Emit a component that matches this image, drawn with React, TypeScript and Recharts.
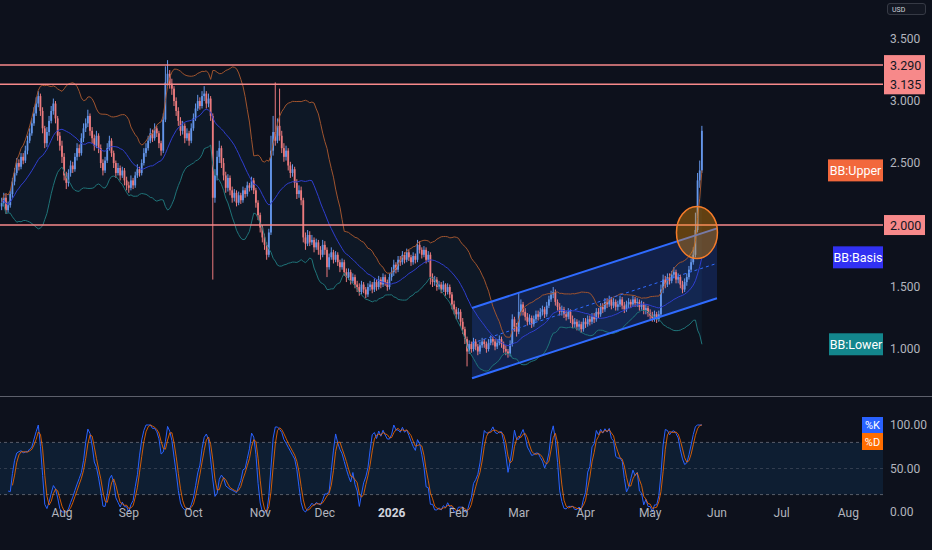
import React from 'react';
import {
  ComposedChart, Bar, Line, Area, XAxis, YAxis,
  ReferenceLine, ReferenceArea, ReferenceDot,
} from 'recharts';

// daily candles, [high, low, close]; open = previous close
const jul25 = [
  [2.22, 2.12, 2.18], [2.26, 2.15, 2.22], [2.25, 2.09, 2.12], [2.19, 2.10, 2.16], [2.28, 2.14, 2.25],
  [2.38, 2.22, 2.35], [2.46, 2.32, 2.42], [2.54, 2.40, 2.50], [2.53, 2.44, 2.47], [2.58, 2.45, 2.55],
  [2.58, 2.49, 2.52], [2.64, 2.50, 2.60], [2.72, 2.57, 2.68], [2.78, 2.66, 2.74], [2.86, 2.72, 2.82],
  [2.95, 2.80, 2.90], [3.03, 2.88, 2.98], [3.08, 2.95, 3.04], [3.06, 2.88, 2.92], [2.95, 2.74, 2.78],
  [2.80, 2.62, 2.66], [2.79, 2.63, 2.75], [2.88, 2.72, 2.84], [2.96, 2.82, 2.92], [3.02, 2.89, 2.98],
  [3.00, 2.82, 2.86], [2.88, 2.68, 2.72], [2.75, 2.60, 2.64],
];
const aug25 = [
  [2.68, 2.50, 2.55], [2.58, 2.36, 2.40], [2.43, 2.29, 2.34], [2.45, 2.31, 2.42], [2.52, 2.39, 2.48],
  [2.51, 2.42, 2.45], [2.58, 2.43, 2.55], [2.66, 2.52, 2.62], [2.65, 2.55, 2.58], [2.74, 2.56, 2.70],
  [2.82, 2.67, 2.78], [2.86, 2.75, 2.82], [2.93, 2.79, 2.88], [2.90, 2.72, 2.76], [2.79, 2.66, 2.70],
  [2.73, 2.60, 2.64], [2.76, 2.62, 2.72], [2.74, 2.58, 2.62], [2.65, 2.46, 2.50], [2.53, 2.40, 2.44],
  [2.55, 2.42, 2.52], [2.66, 2.50, 2.62], [2.72, 2.60, 2.68], [2.70, 2.55, 2.58], [2.60, 2.46, 2.50],
  [2.52, 2.38, 2.42], [2.50, 2.40, 2.46], [2.48, 2.36, 2.40], [2.47, 2.38, 2.44], [2.46, 2.32, 2.36],
  [2.39, 2.28, 2.32],
];
const sep25 = [
  [2.35, 2.26, 2.30], [2.40, 2.28, 2.36], [2.38, 2.29, 2.32], [2.43, 2.30, 2.40], [2.49, 2.38, 2.45],
  [2.47, 2.39, 2.42], [2.53, 2.40, 2.50], [2.62, 2.48, 2.58], [2.66, 2.55, 2.62], [2.72, 2.60, 2.68],
  [2.78, 2.66, 2.74], [2.77, 2.67, 2.70], [2.82, 2.68, 2.78], [2.80, 2.71, 2.74], [2.76, 2.62, 2.66],
  [2.68, 2.56, 2.60], [2.90, 2.58, 2.85], [3.28, 2.83, 3.15], [3.33, 3.12, 3.22], [3.25, 3.10, 3.14],
  [3.18, 3.05, 3.10], [3.12, 2.96, 3.00], [3.03, 2.88, 2.92], [2.95, 2.80, 2.84], [2.87, 2.72, 2.76],
  [2.84, 2.73, 2.80], [2.82, 2.66, 2.70], [2.78, 2.68, 2.74], [2.76, 2.64, 2.68], [2.82, 2.66, 2.78],
];
const oct25 = [
  [2.90, 2.76, 2.86], [2.98, 2.84, 2.94], [3.05, 2.92, 3.00], [3.03, 2.93, 2.96], [3.08, 2.94, 3.04],
  [3.12, 3.00, 3.06], [3.08, 2.94, 2.98], [3.06, 2.95, 3.02], [3.04, 2.84, 2.88], [2.90, 1.56, 2.22],
  [2.45, 2.18, 2.40], [2.60, 2.36, 2.55], [2.68, 2.50, 2.62], [2.64, 2.46, 2.50], [2.54, 2.36, 2.40],
  [2.43, 2.26, 2.30], [2.41, 2.27, 2.38], [2.40, 2.24, 2.28], [2.31, 2.18, 2.22], [2.29, 2.19, 2.26],
  [2.28, 2.15, 2.18], [2.27, 2.16, 2.24], [2.26, 2.17, 2.20], [2.31, 2.18, 2.28], [2.30, 2.22, 2.25],
  [2.35, 2.23, 2.32], [2.34, 2.27, 2.30], [2.39, 2.28, 2.36], [2.38, 2.25, 2.28], [2.30, 2.14, 2.18],
  [2.20, 2.04, 2.08],
];
const nov25 = [
  [2.10, 1.94, 1.98], [2.00, 1.86, 1.90], [1.93, 1.80, 1.84], [1.86, 1.72, 1.76], [1.97, 1.74, 1.94],
  [2.72, 1.92, 2.60], [2.88, 2.56, 2.75], [3.15, 2.64, 2.68], [2.86, 2.66, 2.80], [3.10, 2.68, 2.72],
  [2.76, 2.58, 2.62], [2.66, 2.51, 2.55], [2.64, 2.52, 2.60], [2.62, 2.44, 2.48], [2.51, 2.38, 2.42],
  [2.49, 2.39, 2.45], [2.47, 2.30, 2.34], [2.37, 2.21, 2.25], [2.32, 2.22, 2.28], [2.31, 2.16, 2.20],
  [2.22, 1.86, 1.90], [1.94, 1.80, 1.85], [1.96, 1.83, 1.92], [1.95, 1.83, 1.86], [1.92, 1.84, 1.88],
  [1.90, 1.78, 1.82], [1.89, 1.80, 1.86], [1.88, 1.76, 1.80], [1.83, 1.72, 1.76], [1.88, 1.74, 1.84],
];
const dec25 = [
  [1.87, 1.76, 1.80], [1.82, 1.58, 1.66], [1.77, 1.64, 1.74], [1.82, 1.72, 1.78], [1.80, 1.69, 1.72],
  [1.79, 1.70, 1.76], [1.78, 1.67, 1.70], [1.72, 1.62, 1.66], [1.73, 1.64, 1.70], [1.72, 1.59, 1.62],
  [1.65, 1.54, 1.58], [1.65, 1.56, 1.62], [1.64, 1.52, 1.55], [1.61, 1.53, 1.58], [1.60, 1.49, 1.52],
  [1.55, 1.46, 1.50], [1.53, 1.43, 1.46], [1.55, 1.44, 1.52], [1.54, 1.45, 1.48], [1.50, 1.41, 1.44],
  [1.53, 1.42, 1.50], [1.55, 1.47, 1.52], [1.54, 1.45, 1.48], [1.57, 1.46, 1.54], [1.56, 1.47, 1.50],
  [1.59, 1.48, 1.56], [1.58, 1.49, 1.52], [1.61, 1.50, 1.58], [1.60, 1.51, 1.54], [1.56, 1.47, 1.50],
  [1.61, 1.48, 1.58],
];
const jan26 = [
  [1.66, 1.55, 1.62], [1.72, 1.59, 1.68], [1.70, 1.61, 1.64], [1.75, 1.62, 1.72], [1.75, 1.67, 1.70],
  [1.79, 1.68, 1.76], [1.78, 1.69, 1.72], [1.81, 1.70, 1.78], [1.80, 1.71, 1.74], [1.76, 1.67, 1.70],
  [1.78, 1.68, 1.75], [1.77, 1.69, 1.72], [1.88, 1.70, 1.84], [1.87, 1.77, 1.80], [1.82, 1.73, 1.76],
  [1.83, 1.74, 1.80], [1.82, 1.69, 1.72], [1.79, 1.70, 1.76], [1.78, 1.52, 1.58], [1.61, 1.50, 1.54],
  [1.59, 1.51, 1.56], [1.58, 1.47, 1.50], [1.55, 1.48, 1.52], [1.54, 1.45, 1.48], [1.55, 1.46, 1.52],
  [1.53, 1.43, 1.46], [1.53, 1.44, 1.50], [1.52, 1.41, 1.44], [1.46, 1.32, 1.36], [1.39, 1.28, 1.32],
  [1.34, 1.24, 1.28],
];
const feb26 = [
  [1.33, 1.24, 1.30], [1.32, 1.18, 1.22], [1.25, 1.12, 1.16], [1.18, 1.04, 1.08], [1.10, 0.86, 0.98],
  [1.07, 0.96, 1.04], [1.06, 0.97, 1.00], [1.09, 0.98, 1.06], [1.08, 0.99, 1.02], [1.04, 0.95, 0.98],
  [1.06, 0.96, 1.03], [1.09, 1.01, 1.06], [1.08, 1.01, 1.04], [1.06, 0.97, 1.00], [1.08, 0.98, 1.05],
  [1.11, 1.03, 1.08], [1.10, 1.03, 1.06], [1.08, 0.99, 1.02], [1.08, 1.00, 1.05], [1.11, 1.03, 1.08],
  [1.10, 1.01, 1.04], [1.06, 0.97, 1.00], [1.03, 0.95, 0.98], [1.00, 0.93, 0.96], [1.07, 0.94, 1.04],
  [1.28, 1.02, 1.24], [1.26, 1.14, 1.18], [1.21, 1.10, 1.14],
];
const mar26 = [
  [1.45, 1.12, 1.30], [1.40, 1.27, 1.36], [1.38, 1.27, 1.30], [1.33, 1.23, 1.26], [1.29, 1.19, 1.22],
  [1.28, 1.20, 1.25], [1.27, 1.17, 1.20], [1.27, 1.18, 1.24], [1.31, 1.22, 1.28], [1.31, 1.23, 1.26],
  [1.33, 1.24, 1.30], [1.35, 1.27, 1.32], [1.34, 1.25, 1.28], [1.38, 1.26, 1.35], [1.43, 1.33, 1.40],
  [1.47, 1.38, 1.44], [1.50, 1.41, 1.46], [1.48, 1.35, 1.38], [1.40, 1.31, 1.34], [1.37, 1.27, 1.30],
  [1.35, 1.27, 1.32], [1.34, 1.25, 1.28], [1.31, 1.23, 1.26], [1.33, 1.24, 1.30], [1.32, 1.21, 1.24],
  [1.27, 1.17, 1.20], [1.25, 1.17, 1.22], [1.24, 1.15, 1.18], [1.23, 1.15, 1.20], [1.22, 1.13, 1.16],
  [1.25, 1.14, 1.22],
];
const apr26 = [
  [1.25, 1.17, 1.20], [1.27, 1.18, 1.24], [1.27, 1.19, 1.22], [1.29, 1.20, 1.26], [1.29, 1.21, 1.24],
  [1.33, 1.22, 1.30], [1.33, 1.25, 1.28], [1.37, 1.26, 1.34], [1.37, 1.29, 1.32], [1.41, 1.30, 1.38],
  [1.41, 1.33, 1.36], [1.43, 1.34, 1.40], [1.42, 1.32, 1.35], [1.41, 1.33, 1.38], [1.40, 1.31, 1.34],
  [1.39, 1.31, 1.36], [1.43, 1.34, 1.40], [1.42, 1.32, 1.35], [1.38, 1.29, 1.32], [1.39, 1.30, 1.36],
  [1.41, 1.33, 1.38], [1.40, 1.33, 1.36], [1.43, 1.34, 1.40], [1.42, 1.34, 1.37], [1.41, 1.34, 1.38],
  [1.40, 1.31, 1.34], [1.39, 1.31, 1.36], [1.38, 1.28, 1.31], [1.36, 1.28, 1.33], [1.35, 1.26, 1.29],
];
const may26 = [
  [1.32, 1.24, 1.27], [1.30, 1.22, 1.25], [1.31, 1.22, 1.28], [1.30, 1.21, 1.24], [1.31, 1.22, 1.28],
  [1.52, 1.26, 1.48], [1.60, 1.45, 1.56], [1.59, 1.49, 1.52], [1.61, 1.50, 1.58], [1.61, 1.52, 1.55],
  [1.63, 1.53, 1.60], [1.66, 1.57, 1.62], [1.64, 1.53, 1.56], [1.61, 1.53, 1.58], [1.60, 1.49, 1.52],
  [1.55, 1.45, 1.48], [1.57, 1.46, 1.54], [1.61, 1.51, 1.58], [1.67, 1.56, 1.64], [1.73, 1.62, 1.70],
  [1.82, 1.68, 1.76], [2.10, 1.74, 1.96], [2.42, 1.94, 2.36], [2.52, 2.30, 2.44], [2.80, 2.42, 2.76],
];

const FIRST_DAY = -28; // 4 Jul 2025, days counted from 1 Aug 2025
const FIRST_OPEN = 2.15;

const monthTicks = [0, 31, 61, 92, 122, 153, 184, 212, 243, 273, 304, 334, 365];
const monthLabels = ['Aug', 'Sep', 'Oct', 'Nov', 'Dec', '2026', 'Feb', 'Mar', 'Apr', 'May', 'Jun', 'Jul', 'Aug'];
const priceTicks = [1, 1.5, 2.5, 3, 3.5];
const stochTicks = [0, 50, 100];
const levels = [3.29, 3.135, 2.0];

// parallel channel drawn on the chart
const channelDays = [190.3, 304];
const channelUpper = [1.331, 1.973];
const channelLower = [0.764, 1.409];
const circleDay = 294.7;
const circlePrice = 1.94;

const X_DOMAIN: [number, number] = [-28.78, 381.05];
const BG = '#0d111c';
const UP = '#6496ea';
const DOWN = '#eb7a7d';
const LEVEL = '#f7898a';
const AXIS_TEXT = '#b2b5be';

const avg = (a: number[]) => a.reduce((s, v) => s + v, 0) / a.length;

let prevClose = FIRST_OPEN;
const candles: any[] = [
  ...jul25, ...aug25, ...sep25, ...oct25, ...nov25, ...dec25,
  ...jan26, ...feb26, ...mar26, ...apr26, ...may26,
].map(([h, l, c], i) => {
  const o = prevClose;
  prevClose = c;
  const hi = Math.max(h, o, c);
  const lo = Math.min(l, o, c);
  return { d: FIRST_DAY + i, o, h: hi, l: lo, c, range: [lo, hi] };
});

// Bollinger bands (20, 2)
const closes = candles.map((k) => k.c);
candles.forEach((k, i) => {
  const win = closes.slice(Math.max(0, i - 19), i + 1);
  const m = avg(win);
  const sd = Math.sqrt(avg(win.map((v) => (v - m) ** 2)));
  k.basis = m;
  k.upper = m + 2 * sd;
  k.lower = m - 2 * sd;
  k.band = [k.lower, k.upper];
});

// Stochastic RSI (14, 14, 3, 3)
const rsi: number[] = [];
let ag = 0;
let al = 0;
closes.forEach((c, i) => {
  if (i === 0) { rsi.push(50); return; }
  const ch = c - closes[i - 1];
  const n = Math.min(i, 14);
  ag = (ag * (n - 1) + Math.max(ch, 0)) / n;
  al = (al * (n - 1) + Math.max(-ch, 0)) / n;
  rsi.push(al === 0 ? 100 : 100 - 100 / (1 + ag / al));
});
const stoch = rsi.map((r, i) => {
  const win = rsi.slice(Math.max(1, i - 13), i + 1);
  const hi = Math.max(...win);
  const lo = Math.min(...win);
  return hi === lo ? 50 : ((r - lo) / (hi - lo)) * 100;
});
const kLine = stoch.map((_, i) => avg(stoch.slice(Math.max(0, i - 2), i + 1)));
const dLine = kLine.map((_, i) => avg(kLine.slice(Math.max(0, i - 2), i + 1)));
const stochData = candles.map((k, i) => ({ d: k.d, k: kLine[i], dd: dLine[i] }));

const channelData = channelDays.map((d, i) => ({ d, band: [channelLower[i], channelUpper[i]] }));
const last = candles[candles.length - 1];
const lastK = kLine[kLine.length - 1];

const Candle = (props: any) => {
  const { x, y, width, height, payload } = props;
  if (!payload) return null;
  const { o, h, l, c } = payload;
  const top = Math.min(y, y + height);
  const hh = Math.abs(height);
  const ratio = h === l ? 0 : hh / (h - l);
  const color = c >= o ? UP : DOWN;
  const cx = x + width / 2;
  const bTop = top + (h - Math.max(o, c)) * ratio;
  const bBot = top + (h - Math.min(o, c)) * ratio;
  return (
    <g>
      <line x1={cx} x2={cx} y1={top} y2={top + hh} stroke={color} strokeWidth={1} />
      <rect x={cx - 0.9} y={bTop} width={1.8} height={Math.max(bBot - bTop, 1)} fill={color} />
    </g>
  );
};

const sideTag = (label: string, bg: string, w: number) => (p: any) => (
  <g>
    <rect x={p.cx - w} y={p.cy - 11} width={w} height={22} fill={bg} />
    <text x={p.cx - w / 2} y={p.cy + 4.5} textAnchor="middle" fill="#ffffff" fontSize={12.5}>{label}</text>
  </g>
);

const levelTag = (label: string) => (p: any) => (
  <g>
    <rect x={p.cx + 1} y={p.cy - 10} width={41} height={20} fill={LEVEL} />
    <text x={p.cx + 7} y={p.cy + 4.5} fill="#131722" fontSize={12.5}>{label}</text>
  </g>
);

const KDTags = (p: any) => (
  <g>
    <rect x={p.cx - 21} y={p.cy - 8} width={21} height={16} fill="#2962ff" />
    <text x={p.cx - 10.5} y={p.cy + 4} textAnchor="middle" fill="#ffffff" fontSize={11}>%K</text>
    <rect x={p.cx - 21} y={p.cy + 8} width={21} height={17} fill="#ff6d00" />
    <text x={p.cx - 10.5} y={p.cy + 21} textAnchor="middle" fill="#ffffff" fontSize={11}>%D</text>
  </g>
);

const Ellipse = (p: any) => (
  <ellipse cx={p.cx} cy={p.cy} rx={20.5} ry={26} fill="#ff9800" fillOpacity={0.35} stroke="#f57c2a" strokeWidth={1.5} />
);

const TimeTick = (p: any) => {
  const idx = monthTicks.indexOf(p.payload.value);
  const label = monthLabels[idx];
  const bold = label === '2026';
  return (
    <text x={p.x} y={p.y - 10} textAnchor="middle" fontSize={12}
      fill={bold ? '#d1d4dc' : AXIS_TEXT} fontWeight={bold ? 'bold' : 'normal'}>
      {label}
    </text>
  );
};

export default function App() {
  return (
    <div style={{
      position: 'absolute', left: 0, top: 0, width: 932, height: 550, background: BG,
      overflow: 'hidden', fontFamily: 'Roboto, "Noto Sans", sans-serif',
    }}>
      <div style={{ position: 'absolute', left: 0, top: 0 }}>
        <ComposedChart width={932} height={397} data={candles} margin={{ top: 0, right: 0, bottom: 0, left: 0 }}>
          <XAxis dataKey="d" type="number" domain={X_DOMAIN} allowDataOverflow hide />
          <YAxis orientation="right" width={49} domain={[0.613, 3.815]} allowDataOverflow ticks={priceTicks}
            tickFormatter={(v: number) => v.toFixed(3)} axisLine={false} tickLine={false} tickSize={0}
            tickMargin={7} tick={{ fill: AXIS_TEXT, fontSize: 12 }} />
          <Area dataKey="band" type="linear" stroke="none" fill="#2196f3" fillOpacity={0.05}
            dot={false} activeDot={false} isAnimationActive={false} />
          <Area data={channelData} dataKey="band" type="linear" stroke="none" fill="#2962ff" fillOpacity={0.2}
            dot={false} activeDot={false} isAnimationActive={false} />
          <Line dataKey="upper" type="linear" stroke="#a0542e" strokeWidth={1} dot={false} activeDot={false}
            isAnimationActive={false} />
          <Line dataKey="basis" type="linear" stroke="#2f3ed0" strokeWidth={1} dot={false} activeDot={false}
            isAnimationActive={false} />
          <Line dataKey="lower" type="linear" stroke="#1f7479" strokeWidth={1} dot={false} activeDot={false}
            isAnimationActive={false} />
          <Bar dataKey="range" barSize={2} shape={Candle} isAnimationActive={false} />
          <ReferenceLine segment={[{ x: channelDays[0], y: channelUpper[0] }, { x: channelDays[1], y: channelUpper[1] }]}
            stroke="#2f6bff" strokeWidth={2} />
          <ReferenceLine segment={[{ x: channelDays[0], y: channelLower[0] }, { x: channelDays[1], y: channelLower[1] }]}
            stroke="#2f6bff" strokeWidth={2} />
          <ReferenceLine segment={[
            { x: channelDays[0], y: (channelUpper[0] + channelLower[0]) / 2 },
            { x: channelDays[1], y: (channelUpper[1] + channelLower[1]) / 2 },
          ]} stroke="#2f6bff" strokeWidth={1} strokeDasharray="3 3" />
          <ReferenceDot x={circleDay} y={circlePrice} shape={Ellipse} />
          {levels.map((v) => (
            <ReferenceLine key={v} y={v} stroke={LEVEL} strokeWidth={1.5} />
          ))}
          {levels.map((v) => (
            <ReferenceDot key={'t' + v} x={X_DOMAIN[1]} y={v} shape={levelTag(v.toFixed(3))} />
          ))}
          <ReferenceDot x={X_DOMAIN[1]} y={last.upper} shape={sideTag('BB:Upper', '#f2683c', 55)} />
          <ReferenceDot x={X_DOMAIN[1]} y={last.basis} shape={sideTag('BB:Basis', '#3131f2', 50)} />
          <ReferenceDot x={X_DOMAIN[1]} y={last.lower} shape={sideTag('BB:Lower', '#13868c', 54)} />
        </ComposedChart>
      </div>
      <div style={{ position: 'absolute', left: 0, top: 396, width: 932, height: 1, background: '#5d606b' }} />
      <div style={{ position: 'absolute', left: 0, top: 398 }}>
        <ComposedChart width={932} height={152} data={stochData} margin={{ top: 0, right: 0, bottom: 0, left: 0 }}>
          <XAxis dataKey="d" type="number" domain={X_DOMAIN} allowDataOverflow ticks={monthTicks} interval={0}
            height={23} axisLine={false} tickLine={false} tickSize={0} tickMargin={0} tick={<TimeTick />} />
          <YAxis orientation="right" width={49} domain={[-17.25, 131.03]} allowDataOverflow ticks={stochTicks}
            tickFormatter={(v: number) => v.toFixed(2)} axisLine={false} tickLine={false} tickSize={0}
            tickMargin={7} tick={{ fill: AXIS_TEXT, fontSize: 12 }} />
          <ReferenceArea y1={20} y2={80} fill="#2196f3" fillOpacity={0.1} stroke="none" />
          <ReferenceLine y={80} stroke="#787b86" strokeOpacity={0.7} strokeDasharray="3 3" />
          <ReferenceLine y={50} stroke="#787b86" strokeOpacity={0.35} strokeDasharray="3 3" />
          <ReferenceLine y={20} stroke="#787b86" strokeOpacity={0.7} strokeDasharray="3 3" />
          <Line dataKey="k" type="linear" stroke="#2962ff" strokeWidth={1} dot={false} activeDot={false}
            isAnimationActive={false} />
          <Line dataKey="dd" type="linear" stroke="#ff6d00" strokeWidth={1} strokeOpacity={0.8} dot={false}
            activeDot={false} isAnimationActive={false} />
          <ReferenceDot x={X_DOMAIN[1]} y={lastK} shape={KDTags} />
        </ComposedChart>
      </div>
      <div style={{
        position: 'absolute', left: 887, top: 3, width: 39, height: 12, border: '1px solid #363a45',
        borderRadius: 3, background: '#131722', color: '#d1d4dc', fontSize: 7, lineHeight: '12px',
        paddingLeft: 4, boxSizing: 'border-box',
      }}>USD</div>
    </div>
  );
}
